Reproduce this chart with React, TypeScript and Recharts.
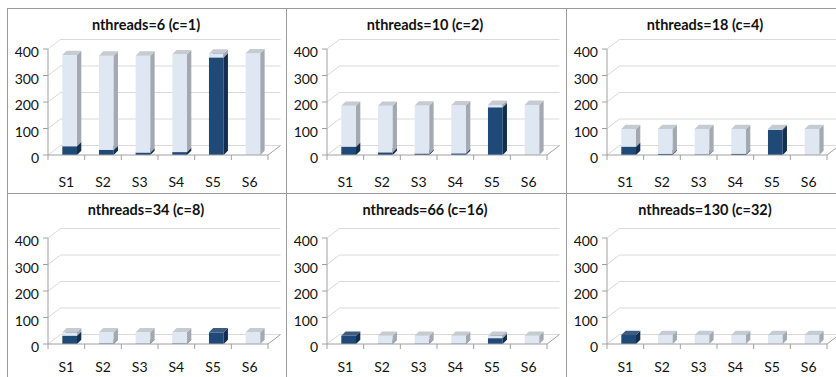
import React from 'react';
import { BarChart, Bar, XAxis, YAxis, CartesianGrid } from 'recharts';

// ---------- data ----------
const CATEGORIES = ['S1', 'S2', 'S3', 'S4', 'S5', 'S6'];
const Y_TICKS = [0, 100, 200, 300, 400];
const TITLES = [
  'nthreads=6 (c=1)',
  'nthreads=10 (c=2)',
  'nthreads=18 (c=4)',
  'nthreads=34 (c=8)',
  'nthreads=66 (c=16)',
  'nthreads=130 (c=32)',
];

const LOWER_6 = [33, 19, 9, 11, 368, 0];
const UPPER_6 = [344, 356, 366, 369, 15, 384];
const LOWER_10 = [31, 10, 5, 6, 180, 0];
const UPPER_10 = [155, 176, 182, 182, 9, 189];
const LOWER_18 = [31, 4, 2, 4, 95, 0];
const UPPER_18 = [67, 94, 96, 94, 3, 98];
const LOWER_34 = [31, 2, 1, 2, 44, 0];
const UPPER_34 = [13, 42, 43, 42, 0, 44];
const LOWER_66 = [31, 1, 1, 1, 22, 0];
const UPPER_66 = [0, 30, 30, 30, 9, 31];
const LOWER_130 = [34, 0, 0, 0, 0, 0];
const UPPER_130 = [0, 34, 34, 34, 34, 34];

const LOWERS = [LOWER_6, LOWER_10, LOWER_18, LOWER_34, LOWER_66, LOWER_130];
const UPPERS = [UPPER_6, UPPER_10, UPPER_18, UPPER_34, UPPER_66, UPPER_130];

// ---------- styles / layout ----------
const FONT = 'Lato, "Noto Sans", sans-serif';
const PANEL_W = 280;
const PANEL_H = 185;
const ORIGINS = [
  [7, 8], [286, 8], [566, 8],
  [7, 193], [286, 193], [566, 193],
];
const ROWS = [
  { plotTop: 41, plotBottom: 147 },
  { plotTop: 45, plotBottom: 151 },
];
const LABEL_Y = 173.7;
const WALL_DX = 12.5;
const WALL_DY = 9.5;
const BAR_DEPTH = 4.3;
const BAR_SHIFT = 3.3;
const BAR_SIZE = 14.7;
const GRID = '#d9d9d9';
const AXIS = '#a0a0a0';
const FRAME = '#9a9a9a';

const DARK = { front: '#1f4a78', side: '#132f50', top: '#3e5c80' };
const LIGHT = { front: '#dfe7f2', side: '#a3a9b1', top: '#c6cbd1' };

function Bar3D(props: any) {
  const { x, y, width, height, colors } = props;
  const w = Number(width);
  const h = Number(height);
  if (!(h > 0.05) || !(w > 0)) return <g />;
  const fx = Number(x) + BAR_SHIFT;
  const top = Number(y);
  const d = BAR_DEPTH;
  const r = fx + w;
  return (
    <g>
      <rect x={fx} y={top} width={w} height={h} fill={colors.front} />
      <polygon
        points={`${r},${top} ${r + d},${top - d} ${r + d},${top + h - d} ${r},${top + h}`}
        fill={colors.side}
      />
      <polygon
        points={`${fx},${top} ${fx + d},${top - d} ${r + d},${top - d} ${r},${top}`}
        fill={colors.top}
      />
    </g>
  );
}

function gridLine(props: any) {
  const { x1, y1, x2 } = props;
  return (
    <path
      key={props.key ?? `g-${y1}`}
      d={`M${x1},${y1} L${x1 + WALL_DX},${y1 - WALL_DY} L${x2 + WALL_DX},${y1 - WALL_DY}`}
      stroke={GRID}
      strokeWidth={1}
      fill="none"
    />
  );
}

function XTick(props: any) {
  const { x, y, payload, index, visibleTicksCount, width, labelOffset } = props;
  const count = visibleTicksCount || CATEGORIES.length;
  const w = typeof width === 'number' ? width : 220;
  const bw = w / count;
  const left = payload.coordinate - bw / 2;
  const last = index === count - 1;
  return (
    <g>
      <line x1={left} y1={y} x2={left} y2={y + 5} stroke={AXIS} />
      {last && <line x1={left + bw} y1={y} x2={left + bw} y2={y + 5} stroke={AXIS} />}
      {last && (
        <line x1={left + bw} y1={y} x2={left + bw + WALL_DX} y2={y - WALL_DY} stroke={AXIS} />
      )}
      <text
        x={x}
        y={y + labelOffset}
        textAnchor="middle"
        dominantBaseline="central"
        fontFamily={FONT}
        fontSize={14}
        fill="#111"
      >
        {payload.value}
      </text>
    </g>
  );
}

function YTick(props: any) {
  const { x, y, payload } = props;
  return (
    <text
      x={x}
      y={y + 2.5}
      textAnchor="end"
      dominantBaseline="central"
      fontFamily={FONT}
      fontSize={14}
      fill="#111"
    >
      {payload.value}
    </text>
  );
}

function Panel({ idx }: { idx: number }) {
  const [ox, oy] = ORIGINS[idx];
  const row = ROWS[idx < 3 ? 0 : 1];
  const lower = LOWERS[idx];
  const upper = UPPERS[idx];
  const data = CATEGORIES.map((c, i) => ({ name: c, lower: lower[i], upper: upper[i] }));
  return (
    <div style={{ position: 'absolute', left: ox, top: oy, width: PANEL_W, height: PANEL_H }}>
      <BarChart
        width={PANEL_W}
        height={PANEL_H}
        data={data}
        margin={{ top: row.plotTop, right: 19, left: 0, bottom: 0 }}
        barSize={BAR_SIZE}
      >
        <CartesianGrid vertical={false} horizontal={gridLine} />
        <XAxis
          dataKey="name"
          height={PANEL_H - row.plotBottom}
          axisLine={{ stroke: AXIS }}
          tickLine={false}
          tickSize={0}
          tickMargin={0}
          interval={0}
          tick={(p: any) => <XTick {...p} labelOffset={LABEL_Y - row.plotBottom} />}
        />
        <YAxis
          domain={[0, 400]}
          ticks={Y_TICKS}
          width={41}
          axisLine={{ stroke: AXIS }}
          tickLine={{ stroke: AXIS }}
          tickSize={5}
          tickMargin={4}
          interval={0}
          tick={(p: any) => <YTick {...p} />}
        />
        <Bar
          dataKey="lower"
          stackId="s"
          isAnimationActive={false}
          shape={(p: any) => <Bar3D {...p} colors={DARK} />}
        />
        <Bar
          dataKey="upper"
          stackId="s"
          isAnimationActive={false}
          shape={(p: any) => <Bar3D {...p} colors={LIGHT} />}
        />
      </BarChart>
      <div
        style={{
          position: 'absolute',
          left: 139,
          top: 17,
          transform: 'translate(-50%, -50%)',
          whiteSpace: 'nowrap',
          fontFamily: FONT,
          fontWeight: 700,
          fontSize: 14.5,
          color: '#111',
          lineHeight: 1,
        }}
      >
        {TITLES[idx]}
      </div>
    </div>
  );
}

export default function App() {
  return (
    <div
      style={{
        position: 'absolute',
        left: 0,
        top: 0,
        width: 836,
        height: 377,
        overflow: 'hidden',
        background: '#fff',
      }}
    >
      {[0, 1, 2, 3, 4, 5].map((i) => (
        <Panel key={i} idx={i} />
      ))}
      {/* frame lines */}
      <div style={{ position: 'absolute', left: 7, top: 8, width: 829, height: 1, background: FRAME }} />
      <div style={{ position: 'absolute', left: 7, top: 193, width: 829, height: 1, background: FRAME }} />
      <div style={{ position: 'absolute', left: 7, top: 8, width: 1, height: 369, background: FRAME }} />
      <div style={{ position: 'absolute', left: 286, top: 8, width: 1, height: 369, background: FRAME }} />
      <div style={{ position: 'absolute', left: 566, top: 8, width: 1, height: 369, background: FRAME }} />
    </div>
  );
}
